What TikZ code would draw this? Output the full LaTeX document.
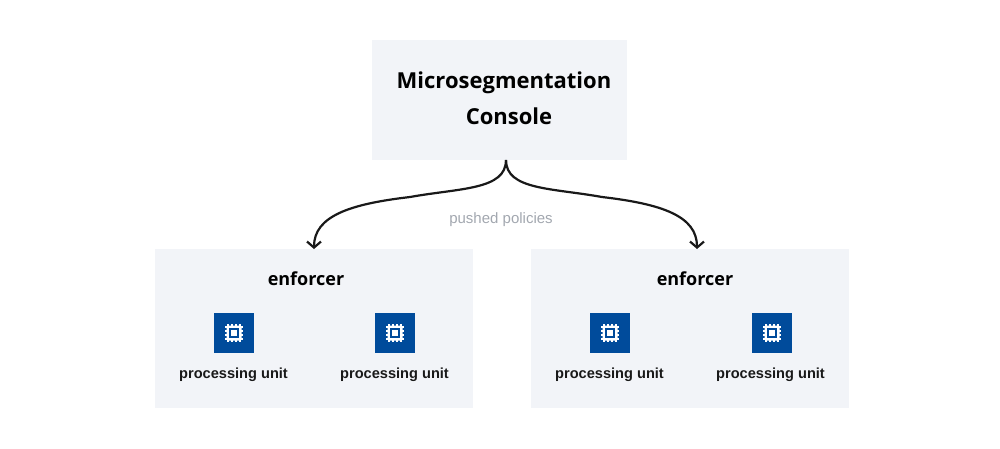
\documentclass[tikz,border=0pt]{standalone}
\usepackage{fontspec}
\setmainfont{Liberation Sans}
\newfontfamily\titlefont{Open Sans}
\usetikzlibrary{arrows.meta,positioning}
\definecolor{panel}{HTML}{F2F4F8}
\definecolor{chipblue}{HTML}{004B9B}
\definecolor{softgray}{HTML}{A2A7AF}

\begin{document}
\begin{tikzpicture}[
    x=1pt, y=-1pt,
    panelbox/.style={fill=panel, inner sep=0pt, outer sep=0pt},
    titletext/.style={inner sep=0pt, font=\titlefont\bfseries\fontsize{22}{26}\selectfont, text=black},
    subtitle/.style={inner sep=0pt, font=\titlefont\bfseries\fontsize{18}{20}\selectfont, text=black},
    unitlabel/.style={inner sep=0pt, font=\bfseries\fontsize{14.6}{18}\selectfont, text=black!90},
    chipbox/.style={fill=chipblue, inner sep=0pt, minimum size=40pt},
    arr/.style={-{Straight Barb[length=6pt,width=14pt]}, line width=2.2pt, black!90},
    chip/.pic={
        \foreach \p in {-6,-2,2,6} {
            \fill[white] (\p-0.9,-9) rectangle (\p+0.9,9);
            \fill[white] (-9,\p-0.9) rectangle (9,\p+0.9);
        }
        \fill[white, rounded corners=1pt] (-7.5,-7.5) rectangle (7.5,7.5);
        \fill[chipblue] (-5,-5) rectangle (5,5);
        \fill[white] (-2.8,-2.8) rectangle (2.8,2.8);
    }
]
\useasboundingbox (0,0) rectangle (1000,448);

\node[panelbox, minimum width=255pt, minimum height=120pt] (console) at (499.5,100) {};
\node[panelbox, minimum width=318pt, minimum height=159pt] (enforcerL) at (314,328.5) {};
\node[panelbox, minimum width=318pt, minimum height=159pt] (enforcerR) at (690,328.5) {};

\node[titletext] (micro) at (504,83) {Microsegmentation};
\node[titletext] (cons) at (509,116) {Console};
\node[subtitle] (nameL) at (306,279) {enforcer};
\node[subtitle] (nameR) at (695,279) {enforcer};

\node[chipbox] (chipA) at (234,333) {};
\node[chipbox] (chipB) at (395,333) {};
\node[chipbox] (chipC) at (610,333) {};
\node[chipbox] (chipD) at (772,333) {};
\pic at (chipA) {chip};
\pic at (chipB) {chip};
\pic at (chipC) {chip};
\pic at (chipD) {chip};

\node[unitlabel] (unitA) at (233.5,375) {processing unit};
\node[unitlabel] (unitB) at (394.5,375) {processing unit};
\node[unitlabel] (unitC) at (609.5,375) {processing unit};
\node[unitlabel] (unitD) at (770.5,375) {processing unit};

\node[inner sep=0pt, text=softgray, font=\fontsize{15}{18}\selectfont] (pushed) at (501,220) {pushed policies};

\draw[arr] ([xshift=6.5pt]console.south) .. controls +(0,30) and +(50,-9) .. (410,197)
    .. controls (350,204) and (314,216) .. (enforcerL.north);
\draw[arr] ([xshift=6.5pt]console.south) .. controls +(0,30) and +(-50,-9) .. (602,197)
    .. controls (662,204) and (697,216) .. ([xshift=7pt]enforcerR.north);
\end{tikzpicture}
\end{document}
